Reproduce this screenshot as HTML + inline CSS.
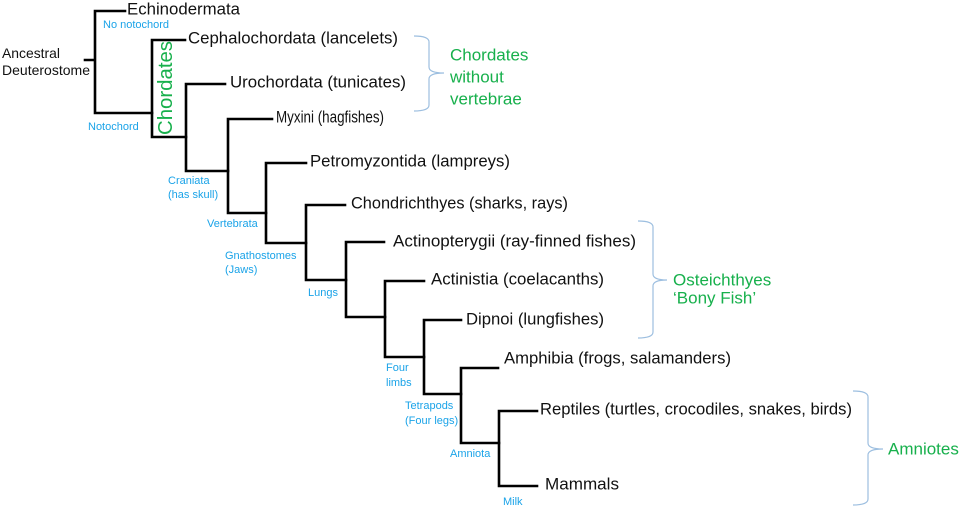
<!DOCTYPE html>
<html><head><meta charset="utf-8"><style>
html,body{margin:0;padding:0;background:#fff;}
svg{display:block;}
text{font-family:"Liberation Sans",sans-serif;dominant-baseline:central;}
.m{font-size:17px;fill:#111;}
.b{font-size:11px;fill:#1aa3e8;}
.g{font-size:17px;fill:#17b04c;}
</style></head><body>
<svg width="960" height="509" viewBox="0 0 960 509">
<g stroke="#000" stroke-width="2.6" fill="none" stroke-linecap="square">
<path d="M85 60H95M95 11V113M95 11H125M95 113H152"/>
<path d="M152 40V137M152 40H185M152 137H186"/>
<path d="M186 84V171M186 84H225M186 171H228"/>
<path d="M228 119V213M228 119H272M228 213H266"/>
<path d="M266 163V243M266 163H306M266 243H306"/>
<path d="M306 205V280M306 205H345M306 280H346"/>
<path d="M346 242V317M346 242H384M346 317H385"/>
<path d="M385 281V357M385 281H424M385 357H424"/>
<path d="M424 320V394M424 320H461M424 394H461"/>
<path d="M461 368V443M461 368H498M461 443H499"/>
<path d="M499 411V486M499 411H537M499 486H537"/>
</g>
<g stroke="#9dbfe0" stroke-width="1.2" fill="none">
<path d="M414 36Q429 36 429 42V67Q429 73 444 73Q429 73 429 79V105Q429 111 414 111"/>
<path d="M638 221Q653 221 653 227V274Q653 280 667 280Q653 280 653 286V332Q653 338 638 338"/>
<path d="M853 391Q868 391 868 397V443Q868 449 883 449Q868 449 868 455V499Q868 505 853 505"/>
</g>
<text class="m" x="2" y="53" style="font-size:14px" textLength="58" lengthAdjust="spacingAndGlyphs">Ancestral</text>
<text class="m" x="2" y="70" style="font-size:14px" textLength="88" lengthAdjust="spacingAndGlyphs">Deuterostome</text>
<text class="m" x="127" y="9" textLength="113" lengthAdjust="spacingAndGlyphs">Echinodermata</text>
<text class="m" x="188" y="38" textLength="210" lengthAdjust="spacingAndGlyphs">Cephalochordata (lancelets)</text>
<text class="m" x="230" y="82" textLength="176" lengthAdjust="spacingAndGlyphs">Urochordata (tunicates)</text>
<text class="m" x="276" y="117" textLength="108" lengthAdjust="spacingAndGlyphs">Myxini (hagfishes)</text>
<text class="m" x="310" y="161" textLength="200" lengthAdjust="spacingAndGlyphs">Petromyzontida (lampreys)</text>
<text class="m" x="351" y="203" textLength="217" lengthAdjust="spacingAndGlyphs">Chondrichthyes (sharks, rays)</text>
<text class="m" x="393" y="241" textLength="243" lengthAdjust="spacingAndGlyphs">Actinopterygii (ray-finned fishes)</text>
<text class="m" x="431" y="279" textLength="173" lengthAdjust="spacingAndGlyphs">Actinistia (coelacanths)</text>
<text class="m" x="466" y="319" textLength="138" lengthAdjust="spacingAndGlyphs">Dipnoi (lungfishes)</text>
<text class="m" x="504" y="358" textLength="227" lengthAdjust="spacingAndGlyphs">Amphibia (frogs, salamanders)</text>
<text class="m" x="540" y="409" textLength="312" lengthAdjust="spacingAndGlyphs">Reptiles (turtles, crocodiles, snakes, birds)</text>
<text class="m" x="545" y="484" textLength="74" lengthAdjust="spacingAndGlyphs">Mammals</text>
<text class="b" x="103" y="25">No notochord</text>
<text class="b" x="88" y="127">Notochord</text>
<text class="b" x="168" y="181">Craniata</text>
<text class="b" x="168" y="195">(has skull)</text>
<text class="b" x="207" y="224">Vertebrata</text>
<text class="b" x="225" y="256">Gnathostomes</text>
<text class="b" x="225" y="270">(Jaws)</text>
<text class="b" x="308" y="293">Lungs</text>
<text class="b" x="386" y="368">Four</text>
<text class="b" x="386" y="383">limbs</text>
<text class="b" x="405" y="406">Tetrapods</text>
<text class="b" x="405" y="421">(Four legs)</text>
<text class="b" x="450" y="454">Amniota</text>
<text class="b" x="503" y="502">Milk</text>
<text class="g" x="0" y="0" style="font-size:20px" transform="translate(166 88) rotate(-90)" text-anchor="middle" textLength="94" lengthAdjust="spacingAndGlyphs">Chordates</text>
<text class="g" x="450" y="55">Chordates</text>
<text class="g" x="450" y="77">without</text>
<text class="g" x="450" y="99">vertebrae</text>
<text class="g" x="673" y="280">Osteichthyes</text>
<text class="g" x="673" y="298">‘Bony Fish’</text>
<text class="g" x="888" y="449">Amniotes</text>
</svg>
</body></html>
